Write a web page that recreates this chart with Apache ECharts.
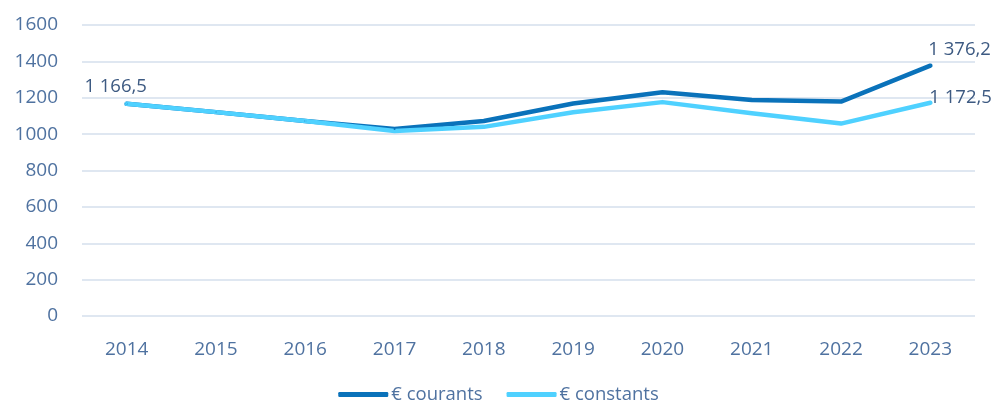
<!DOCTYPE html>
<html lang="fr">
<head>
    <meta charset="UTF-8"/>
    <title>Courants / constants</title>
    <script src="https://cdn.jsdelivr.net/npm/echarts@6/dist/echarts.min.js"></script>
    <style>
        html, body { margin: 0; padding: 0; background: #fff; }
        #main { width: 997px; height: 403px; }
    </style>
</head>
<body>
<div id="main"></div>
<script>
    // données
    var annees = ['2014', '2015', '2016', '2017', '2018', '2019', '2020', '2021', '2022', '2023'];
    var courants = [1166.5, 1121, 1072, 1028, 1072, 1168, 1230, 1187, 1179, 1376.2];
    var constants = [1166.5, 1121, 1072, 1017, 1040, 1120, 1176, 1115, 1058, 1172.5];
    var nomsSeries = ['€ courants', '€ constants'];

    function fmt(v) {
        // 1166.5 -> "1 166,5"
        var s = v.toFixed(1).replace('.', ',');
        return s.replace(/^(\d)(\d{3})/, '$1 $2');
    }

    var txt = '#4f72a0';
    var myChart = echarts.init(document.getElementById('main'));

    var courantsData = courants.map(function (v, i) {
        if (i === courants.length - 1) {
            return { value: v, label: { show: true, position: 'top', align: 'left', offset: [-2, 0] } };
        }
        return v;
    });
    var constantsData = constants.map(function (v, i) {
        if (i === 0) {
            return { value: v, label: { show: true, position: 'top', offset: [-11, -2] } };
        }
        if (i === constants.length - 1) {
            return { value: v, label: { show: true, position: 'right', distance: 0, offset: [-2, -5] } };
        }
        return v;
    });

    var labelStyle = {
        show: false,
        color: '#3d5a82',
        fontFamily: 'Open Sans',
        fontSize: 18.5,
        formatter: function (p) { return fmt(p.value); }
    };

    myChart.setOption({
        animation: false,
        textStyle: { fontFamily: 'Open Sans' },
        grid: { left: 82, right: 22, top: 25, bottom: 87 },
        legend: {
            top: 380,
            left: 'center',
            itemWidth: 50,
            itemHeight: 5,
            itemGap: 24,
            icon: 'roundRect',
            textStyle: { color: txt, fontSize: 18.5, fontFamily: 'Open Sans', padding: [0, 0, 0, -2] },
            data: nomsSeries
        },
        xAxis: {
            type: 'category',
            data: annees,
            boundaryGap: true,
            axisLine: { show: false },
            axisTick: { show: false },
            axisLabel: { color: txt, fontSize: 19, margin: 24 }
        },
        yAxis: {
            type: 'value',
            min: 0,
            max: 1600,
            interval: 200,
            axisLine: { show: false },
            axisTick: { show: false },
            axisLabel: { color: txt, fontSize: 19, margin: 24, formatter: function (v) { return String(v); } },
            splitLine: { lineStyle: { color: '#dfe7f1', width: 2 } }
        },
        series: [{
            name: nomsSeries[0],
            type: 'line',
            data: courantsData,
            symbol: 'circle',
            symbolSize: 2,
            color: '#0a72ba',
            lineStyle: { width: 4.5, cap: 'round', join: 'round' },
            label: labelStyle
        }, {
            name: nomsSeries[1],
            type: 'line',
            data: constantsData,
            symbol: 'circle',
            symbolSize: 2,
            color: '#4fd1ff',
            lineStyle: { width: 4.5, cap: 'round', join: 'round' },
            label: labelStyle
        }]
    });
</script>
</body>
</html>
